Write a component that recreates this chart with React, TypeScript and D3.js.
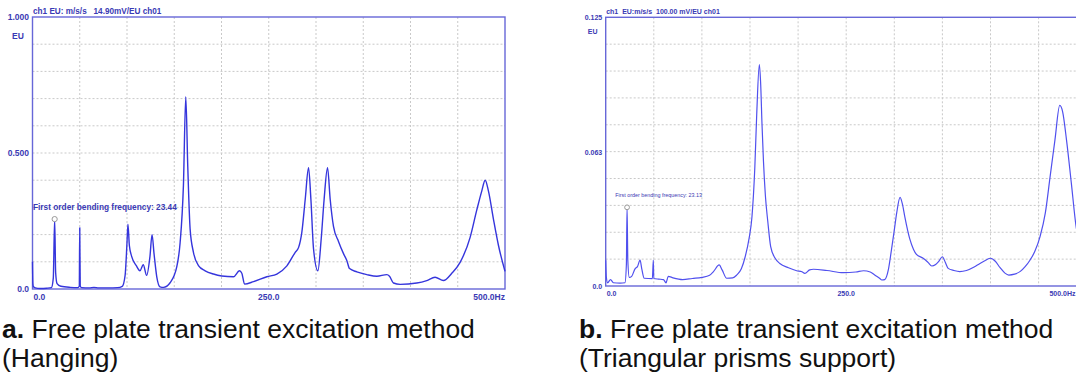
import React from "react";
import * as d3 from "d3";

// (a) hanging: frequency (Hz) and amplitude (EU)
const hangingHz = [
  0, 0.4, 1, 3, 8, 15, 20, 22, 23.44, 24.5, 26, 30, 40, 48, 49.5, 50, 50.5, 52, 60, 65, 70, 80, 90, 95,
  98, 100, 101, 102.5, 105, 110, 113.7, 117.2, 120.8, 124.3, 126.5, 128.6, 131.5, 135, 138.6, 145.6,
  152.7, 156.2, 159.7, 162.2, 164.3, 166.8, 170.3, 175.6, 182.7, 191.5, 200.3, 212.7, 219, 221.5,
  224.4, 233.9, 248, 258.6, 269.2, 278, 281.6, 285, 288.6, 292.1, 294.6, 297.4, 302, 305.5, 308.6,
  312.2, 315, 318.5, 323.8, 329.1, 332.6, 335.5, 343.2, 353.8, 364.4, 375, 377.8, 382, 389, 406.7,
  417.2, 426, 434.9, 443.7, 452.5, 463.1, 470.1, 475.4, 479, 482.5, 487.8, 493.1, 500,
];
const hangingEU = [
  0.1, 0.02, 0.008, 0.004, 0.002, 0.003, 0.005, 0.04, 0.257, 0.06, 0.02, 0.01, 0.006, 0.005, 0.01,
  0.225, 0.01, 0.005, 0.004, 0.006, 0.004, 0.004, 0.005, 0.01, 0.05, 0.17, 0.238, 0.16, 0.119, 0.085,
  0.067, 0.089, 0.05, 0.12, 0.2, 0.13, 0.045, 0.008, 0.006, 0.023, 0.082, 0.17, 0.38, 0.707, 0.45,
  0.22, 0.135, 0.086, 0.067, 0.055, 0.048, 0.045, 0.067, 0.058, 0.018, 0.027, 0.045, 0.055, 0.085,
  0.135, 0.153, 0.208, 0.33, 0.446, 0.33, 0.147, 0.067, 0.184, 0.33, 0.446, 0.33, 0.23, 0.175, 0.13,
  0.105, 0.075, 0.063, 0.053, 0.047, 0.053, 0.047, 0.022, 0.017, 0.022, 0.031, 0.043, 0.031, 0.058,
  0.098, 0.19, 0.29, 0.36, 0.4, 0.36, 0.256, 0.16, 0.065,
];

// (b) triangular prisms support
const prismHz = [
  0, 0.7, 2, 5, 8, 15, 20, 21.5, 22.2, 23, 24.5, 27, 30.5, 33, 35.7, 37.5, 40, 48.5, 49.5, 50, 55, 60,
  62.7, 65, 70, 80, 90, 100, 108, 112, 118, 121, 125.8, 132, 136, 141, 145, 149, 152, 155, 157, 159.7,
  161, 162.5, 164, 166, 168.5, 171.5, 176, 181, 190, 198.5, 204, 207, 212, 216, 230, 247, 260, 268,
  275, 280, 285, 287, 290, 294, 297, 300, 302.5, 306, 308.5, 311, 316, 320, 323, 330, 335, 339, 343,
  346, 350, 353, 356, 362, 368, 375, 383, 389, 395, 400, 405, 410, 415, 419, 425, 431, 436, 441, 446,
  451.5, 457, 462, 467, 472, 475, 479, 484, 489, 495, 500,
];
const prismEU = [
  0.012, 0.004, 0.0015, 0.003, 0.0015, 0.0013, 0.0015, 0.01, 0.0366, 0.012, 0.004, 0.0045, 0.008,
  0.009, 0.012, 0.008, 0.0036, 0.0034, 0.012, 0.0035, 0.0032, 0.003, 0.0015, 0.0045, 0.0038, 0.003,
  0.0035, 0.004, 0.005, 0.0067, 0.0098, 0.0075, 0.0036, 0.0038, 0.005, 0.008, 0.0136, 0.022, 0.032,
  0.055, 0.08, 0.103, 0.095, 0.075, 0.058, 0.042, 0.03, 0.0183, 0.013, 0.0105, 0.0085, 0.0071, 0.0066,
  0.0059, 0.0075, 0.0078, 0.0072, 0.0062, 0.0065, 0.0071, 0.0065, 0.005, 0.0035, 0.0028, 0.003, 0.008,
  0.0167, 0.026, 0.034, 0.0412, 0.038, 0.032, 0.022, 0.017, 0.0147, 0.0129, 0.011, 0.0093, 0.01,
  0.0113, 0.0136, 0.011, 0.0082, 0.0072, 0.0067, 0.0072, 0.0088, 0.0105, 0.012, 0.0129, 0.0115,
  0.0085, 0.006, 0.0051, 0.0055, 0.0068, 0.009, 0.012, 0.016, 0.023, 0.034, 0.051, 0.068, 0.084,
  0.081, 0.068, 0.048, 0.0276, 0.018, 0.012,
];

const xTicksHz = [0, 250, 500];
const xTickLabels = ["0.0", "250.0", "500.0Hz"];

type PanelProps = {
  hz: number[];
  eu: number[];
  left: number;
  right: number;
  top: number;
  bottom: number;
  yMax: number;
  yLabels: string[];
  title: string;
  note: string;
  markHz: number;
  markEU: number;
  big: boolean;
  lineColor: string;
};

const Panel = (p: PanelProps) => {
  const x = d3.scaleLinear().domain([0, 500]).range([p.left, p.right]);
  const y = d3.scaleLinear().domain([0, p.yMax]).range([p.bottom, p.top]);
  const pts = p.hz.map((h, i) => [h, p.eu[i]] as [number, number]);
  const line = d3
    .line<[number, number]>()
    .x((d) => x(d[0]))
    .y((d) => y(d[1]))
    .curve(d3.curveMonotoneX);
  const vGrid = d3.range(50, 500, 50);
  const hGrid = d3.range(1, 10).map((i) => (p.yMax * i) / 10);
  const fs = p.big ? 8.5 : 7;
  const txt = "#3a3ab4";
  const yTickVals = [p.yMax, p.yMax / 2, 0];
  // last x label stays inside the page when the plot runs past it
  const lastX = Math.min(x(500), 1075.5);

  return (
    <g fontFamily="Arial, 'Liberation Sans', sans-serif">
      {vGrid.map((v) => (
        <line key={"v" + v} x1={x(v)} x2={x(v)} y1={p.top} y2={p.bottom} stroke="#c9c9c9" strokeDasharray="2,2" />
      ))}
      {hGrid.map((v) => (
        <line key={"h" + v} x1={p.left} x2={p.right} y1={y(v)} y2={y(v)} stroke="#c9c9c9" strokeDasharray="2,2" />
      ))}
      <rect x={p.left} y={p.top} width={p.right - p.left} height={p.bottom - p.top} fill="none" stroke="#6767d8" strokeWidth={1.4} />
      <path d={line(pts) ?? ""} fill="none" stroke={p.lineColor} strokeWidth={p.big ? 1.4 : 1.2} strokeLinejoin="round" />
      <circle cx={x(p.markHz)} cy={y(p.markEU)} r={p.big ? 2.6 : 2.4} fill="white" stroke="#999" strokeWidth={1} />
      <text x={p.left + 0.5} y={p.top - 3} fontSize={p.big ? 8.2 : 7} fontWeight="bold" fill={txt} style={{ whiteSpace: "pre" }}>
        {p.title}
      </text>
      {yTickVals.map((v, i) => (
        <text key={"y" + i} x={p.left - 3.5} y={y(v) + 3} fontSize={fs} fontWeight="bold" fill={txt} textAnchor="end">
          {p.yLabels[i]}
        </text>
      ))}
      <text x={p.left - (p.big ? 14.5 : 13)} y={y(p.yMax) + (p.big ? 22 : 17)} fontSize={fs} fontWeight="bold" fill={txt} textAnchor="middle">
        EU
      </text>
      {xTicksHz.map((v, i) => (
        <text
          key={"x" + i}
          x={i === 0 ? x(v) + 1 : i === 2 ? lastX : x(v)}
          y={p.bottom + (p.big ? 11 : 10)}
          fontSize={fs}
          fontWeight="bold"
          fill={txt}
          textAnchor={i === 0 ? "start" : i === 2 ? "end" : "middle"}
        >
          {xTickLabels[i]}
        </text>
      ))}
      <text
        x={p.left + (p.big ? 0.5 : 9.5)}
        y={y(p.markEU) + (p.big ? -9 : -10)}
        fontSize={p.big ? 8.3 : 5.4}
        fontWeight={p.big ? "bold" : "normal"}
        fill={txt}
      >
        {p.note}
      </text>
    </g>
  );
};

export default function App() {
  return (
    <svg width={1076} height={375} style={{ position: "absolute", left: 0, top: 0, background: "white" }}>
      <Panel
        hz={hangingHz}
        eu={hangingEU}
        left={32.5}
        right={505}
        top={17}
        bottom={289}
        yMax={1}
        yLabels={["1.000", "0.500", "0.0"]}
        title={"ch1 EU: m/s/s   14.90mV/EU ch01"}
        note="First order bending frequency: 23.44"
        markHz={23.44}
        markEU={0.257}
        big={true}
        lineColor="#3535dc"
      />
      <Panel
        hz={prismHz}
        eu={prismEU}
        left={605.7}
        right={1086.7}
        top={17.3}
        bottom={286}
        yMax={0.125}
        yLabels={["0.125", "0.063", "0.0"]}
        title={"ch1  EU:m/s/s  100.00 mV/EU ch01"}
        note="First order bending frequency: 23.13"
        markHz={22.2}
        markEU={0.0366}
        big={false}
        lineColor="#5050ee"
      />
      <g fontFamily="Arial, 'Liberation Sans', sans-serif" fontSize={26.5} fill="#111">
        <text x={2} y={338}>
          <tspan fontWeight="bold">a.</tspan> Free plate transient excitation method
        </text>
        <text x={2} y={366.5}>(Hanging)</text>
        <text x={579} y={338}>
          <tspan fontWeight="bold">b.</tspan> Free plate transient excitation method
        </text>
        <text x={579} y={366.5}>(Triangular prisms support)</text>
      </g>
    </svg>
  );
}
